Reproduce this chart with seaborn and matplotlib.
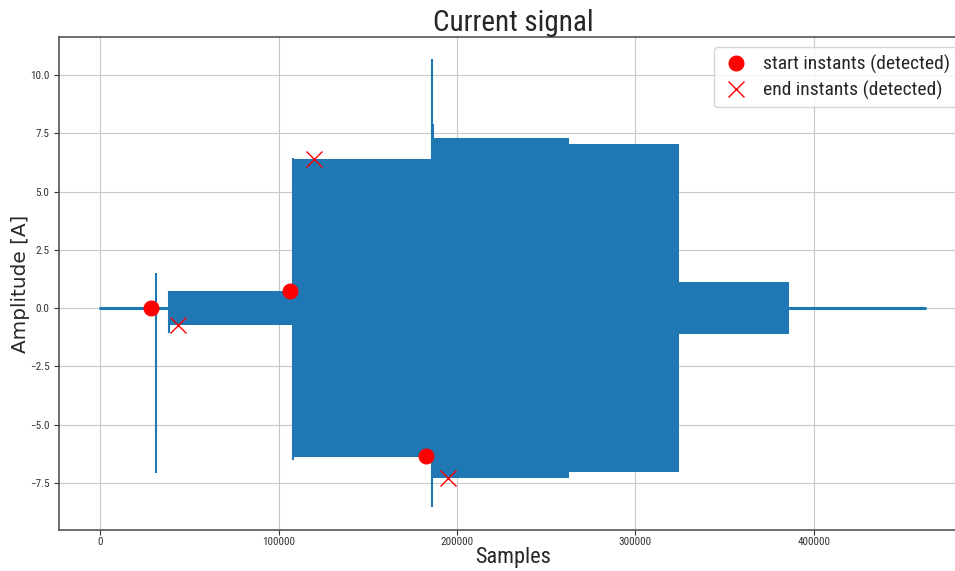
import matplotlib
matplotlib.use("Agg")
import matplotlib.pyplot as plt
from matplotlib import font_manager
import seaborn as sns
import pandas as pd

# ---- data ----
seg_start = [0, 38700, 107800, 186200, 263000, 324600, 386000]
seg_end = [38700, 107800, 186200, 263000, 324600, 386000, 462700]
seg_upper = [0.04, 0.73, 6.38, 7.31, 7.04, 1.10, 0.03]
seg_lower = [-0.04, -0.73, -6.40, -7.29, -7.03, -1.12, -0.03]

spike_x = [31400, 38700, 108000, 186200, 186600]
spike_top = [1.50, 0.73, 6.42, 10.70, 7.90]
spike_bottom = [-7.07, -1.07, -6.52, -8.55, -7.30]

start_x = [28600, 106600, 182800]
start_y = [0.0, 0.72, -6.35]
end_x = [43700, 120000, 195200]
end_y = [-0.72, 6.40, -7.29]

xtick_vals = [0, 100000, 200000, 300000, 400000]
xtick_labels = ["0", "100000", "200000", "300000", "400000"]
ytick_vals = [-7.5, -5.0, -2.5, 0.0, 2.5, 5.0, 7.5, 10.0]
ytick_labels = ["\u22127.5", "\u22125.0", "\u22122.5", "0.0", "2.5", "5.0", "7.5", "10.0"]

sns.set_style("whitegrid", {"axes.edgecolor": "#555555", "grid.color": "#c8c8c8",
                            "xtick.bottom": True, "ytick.left": True})

names = {f.name for f in font_manager.fontManager.ttflist}
cond = "DejaVu Sans"
for cand in ["Roboto Condensed", "DejaVu Sans Condensed", "Liberation Sans Narrow", "Open Sans Condensed"]:
    if cand in names:
        cond = cand
        break
plt.rcParams['font.family'] = [cond, 'DejaVu Sans']
plt.rcParams['font.stretch'] = 'condensed'

fig = plt.figure(figsize=(9.55, 5.71), dpi=100)
ax = fig.add_axes([59/955, 1-530/571, (967-59)/955, (530-37)/571])

color = "#1f77b4"
xs = seg_start + [seg_end[-1]]
up = seg_upper + [seg_upper[-1]]
lo = seg_lower + [seg_lower[-1]]
ax.fill_between(xs, lo, up, step="post", color=color, lw=0)
ax.vlines(spike_x, spike_bottom, spike_top, color=color, lw=1.5)
base = pd.DataFrame({"x": [0, 38700, 386000, 462700], "y": [0, 0, 0, 0], "g": [0, 0, 1, 1]})
sns.lineplot(data=base, x="x", y="y", units="g", estimator=None, color=color, lw=2.2, ax=ax, legend=False)

ax.plot(start_x, start_y, "o", color="red", markersize=10.5, label="start instants (detected)")
ax.plot(end_x, end_y, "x", color="red", markersize=12, markeredgewidth=1.0, label="end instants (detected)")

ax.set_xlim(-23150, 486000)
ax.set_ylim(-9.52, 11.63)
ax.set_xticks(xtick_vals)
ax.set_xticklabels(xtick_labels)
ax.set_yticks(ytick_vals)
ax.set_yticklabels(ytick_labels)
ax.tick_params(labelsize=8, length=3.5, width=0.8, colors="#333333")
ax.tick_params(axis="x", pad=1.5)
for s in ax.spines.values():
    s.set_linewidth(1.2)

ax.set_title("Current signal", fontsize=21, pad=3)
ax.set_xlabel("Samples", fontsize=16, labelpad=0)
ax.set_ylabel("Amplitude [A]", fontsize=14.4, family="DejaVu Sans", stretch="normal", labelpad=0)
ax.legend(loc="upper right", fontsize=14, framealpha=0.8, borderaxespad=0.5,
          labelspacing=0.35, handlelength=1.5, handletextpad=0.6)

fig.savefig("out.png", dpi=100)
